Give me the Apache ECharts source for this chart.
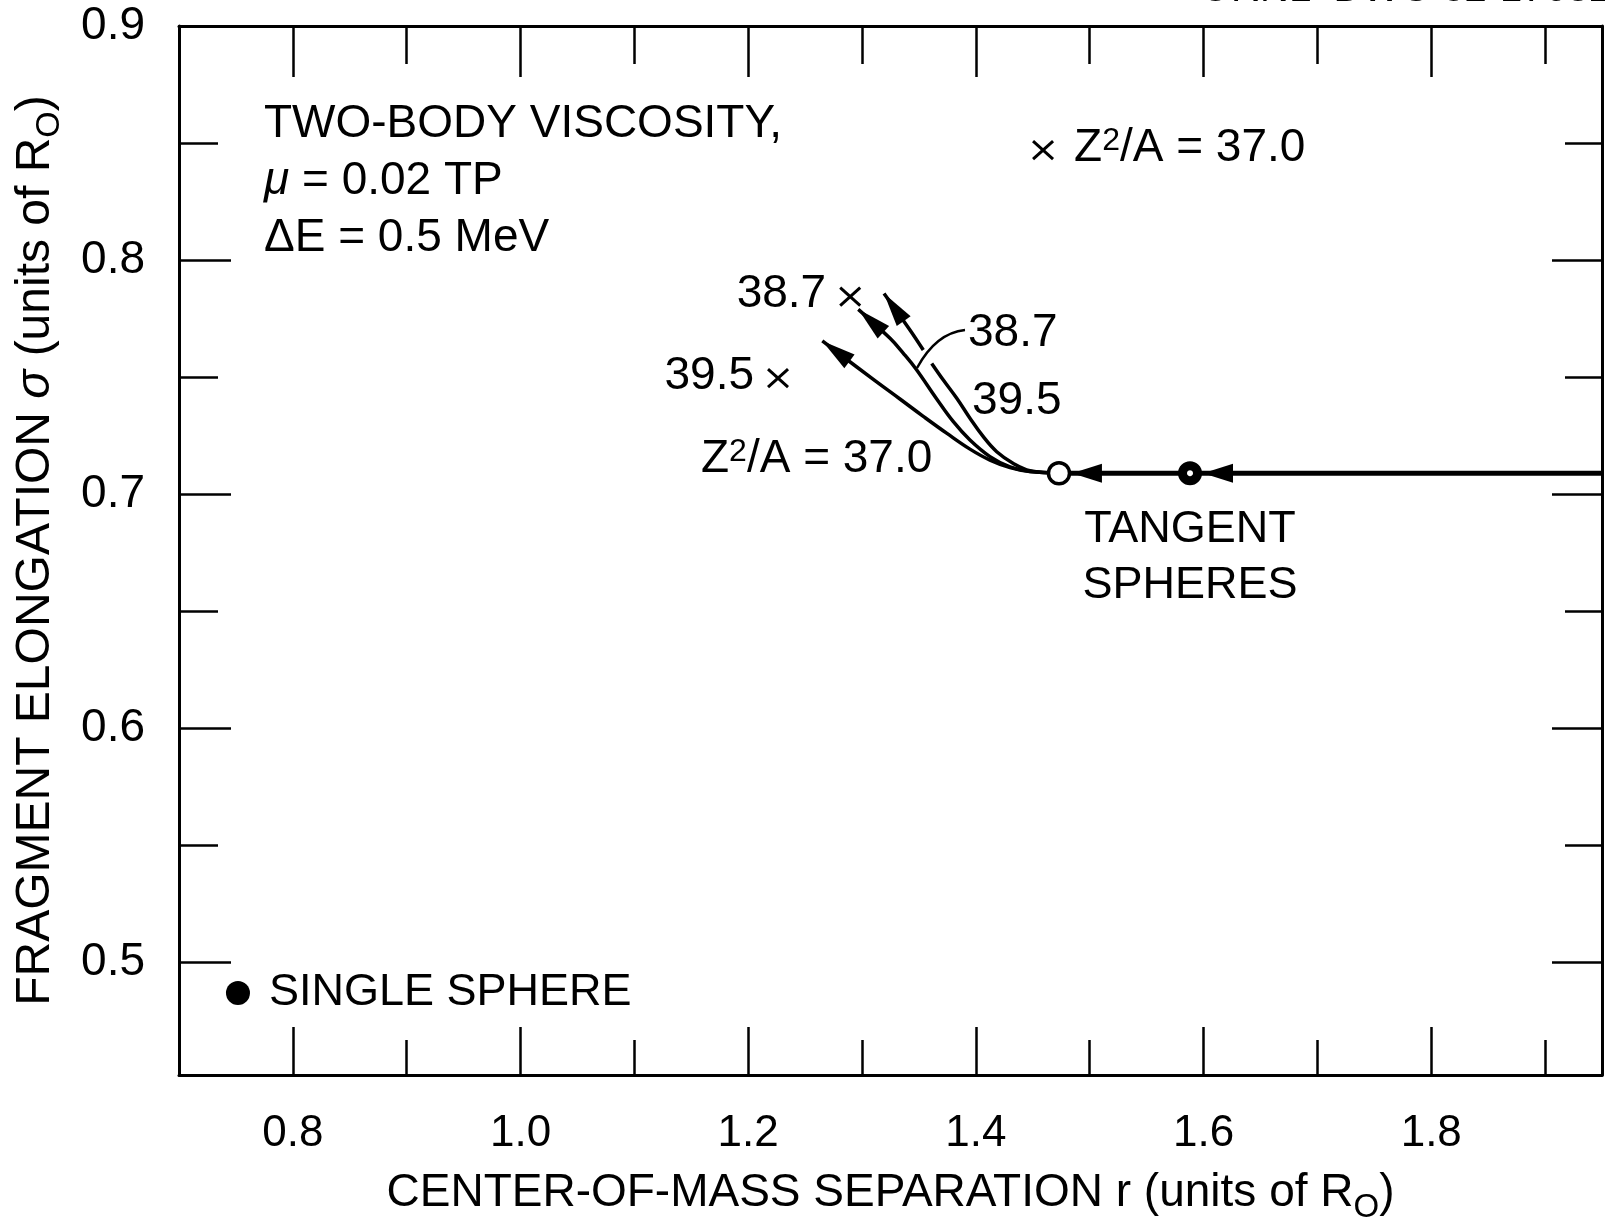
<!DOCTYPE html>
<html>
<head>
<meta charset="utf-8">
<script src="https://cdn.jsdelivr.net/npm/echarts@6/dist/echarts.min.js"></script>
<style>
    html, body { margin: 0; padding: 0; background: #fff; }
    #chart { width: 1605px; height: 1225px; }
</style>
</head>
<body>
<div id="chart"></div>
<script>
// Tick positions
const xMajorTicks = [0.8, 1.0, 1.2, 1.4, 1.6, 1.8];
const xMinorTicks = [0.9, 1.1, 1.3, 1.5, 1.7, 1.9];
const yMajorTicks = [0.5, 0.6, 0.7, 0.8, 0.9];
const yMinorTicks = [0.55, 0.65, 0.75, 0.85];

// Trajectories [r, sigma], from the tangent-sphere point to the arrow tip
const curve370 = [[1.4730, 0.7091], [1.4475, 0.7097], [1.4300, 0.7114], [1.4124, 0.7146], [1.3948, 0.7193],
    [1.3746, 0.7260], [1.3535, 0.7334], [1.3333, 0.7407], [1.3096, 0.7492], [1.2651, 0.7655]];
const curve387 = [[1.4730, 0.7091], [1.4475, 0.7097], [1.4300, 0.7117], [1.4124, 0.7161], [1.3948, 0.7232],
    [1.3802, 0.7310], [1.3656, 0.7407], [1.3474, 0.7535], [1.3363, 0.7602], [1.3246, 0.7666], [1.2967, 0.7790]];
const curve395 = [[1.4730, 0.7091], [1.4475, 0.7101], [1.4329, 0.7132], [1.4183, 0.7182], [1.4065, 0.7246],
    [1.3948, 0.7325], [1.3832, 0.7410], [1.3714, 0.7488], [1.3612, 0.7559], null, [1.3538, 0.7616],
    [1.3421, 0.7702], [1.3193, 0.7858]];

// Approach along the tangent line
const tangentSigma = 0.709;
const approachLine = [[1.95, tangentSigma], [1.4730, tangentSigma]];
const approachArrows = [[1.5995, tangentSigma, 1.95, tangentSigma], [1.4844, tangentSigma, 1.5881, tangentSigma]];

// Special points
const openCircle = [[1.4730, tangentSigma]];
const tangentSpheres = [[1.5881, tangentSigma]];
const singleSphere = [[0.7518, 0.487]];

// Scission points (x)
const crossR = [1.459, 1.2896, 1.2262];
const crossSigma = [0.847, 0.7844, 0.7496];
const crossLabels = ['Z{sup|2}/A = 37.0', '38.7', '39.5'];

const FONT = 'Liberation Sans';
const SUP = { fontFamily: FONT, fontSize: 32, verticalAlign: 'top', lineHeight: 30, fill: '#000', color: '#000' };

function tipArrow(curve) {
    const pts = curve.filter(p => p);
    const tip = pts[pts.length - 1];
    const prev = pts[pts.length - 2];
    return [tip[0], tip[1], prev[0], prev[1]];
}

function arrowSeries(list, len, width) {
    return {
        type: 'custom',
        coordinateSystem: 'cartesian2d',
        silent: true,
        z: 5,
        data: list,
        renderItem: function (params, api) {
            const tip = api.coord([api.value(0), api.value(1)]);
            const from = api.coord([api.value(2), api.value(3)]);
            let dx = tip[0] - from[0];
            let dy = tip[1] - from[1];
            const d = Math.sqrt(dx * dx + dy * dy) || 1;
            dx /= d; dy /= d;
            const bx = tip[0] - dx * len;
            const by = tip[1] - dy * len;
            const nx = -dy * width / 2;
            const ny = dx * width / 2;
            return {
                type: 'polygon',
                shape: { points: [tip, [bx + nx, by + ny], [bx - nx, by - ny]] },
                style: { fill: '#000' }
            };
        }
    };
}

function tickAxis(kind, position, values, len, withLine, withLabels) {
    const ax = {
        type: 'value',
        position: position,
        min: kind === 'x' ? 0.7 : 0.452,
        max: kind === 'x' ? 1.95 : 0.9,
        splitLine: { show: false },
        axisLine: { show: withLine, onZero: false, lineStyle: { color: '#000', width: 3 } },
        axisTick: { show: true, inside: true, length: len, customValues: values, lineStyle: { color: '#000', width: 2.5 } },
        axisLabel: { show: false }
    };
    if (withLabels) {
        ax.axisLabel = {
            show: true,
            customValues: values,
            formatter: v => v.toFixed(1),
            fontFamily: FONT,
            fontSize: kind === 'x' ? 44 : 46,
            color: '#000',
            margin: kind === 'x' ? 37 : 34
        };
    }
    return ax;
}

const chart = echarts.init(document.getElementById('chart'));

const xAxes = [
    tickAxis('x', 'bottom', xMajorTicks, 48, true, true),
    tickAxis('x', 'bottom', xMinorTicks, 35, false, false),
    tickAxis('x', 'top', xMajorTicks, 51, true, false),
    tickAxis('x', 'top', xMinorTicks, 38, false, false)
];
Object.assign(xAxes[0], {
    name: 'CENTER-OF-MASS SEPARATION r (units of R{sub|O})',
    nameLocation: 'middle',
    nameGap: 87,
    nameTextStyle: {
        fontFamily: FONT, fontSize: 46, color: '#000', lineHeight: 62,
        rich: { sub: { fontFamily: FONT, fontSize: 33, lineHeight: 33, verticalAlign: 'bottom', color: '#000' } }
    }
});

const yAxes = [
    tickAxis('y', 'left', yMajorTicks, 52, true, true),
    tickAxis('y', 'left', yMinorTicks, 39, false, false),
    tickAxis('y', 'right', yMajorTicks, 50, true, false),
    tickAxis('y', 'right', yMinorTicks, 37, false, false)
];
Object.assign(yAxes[0], {
    name: 'FRAGMENT ELONGATION {it|\u03c3} (units of R{sub|O})',
    nameLocation: 'middle',
    nameGap: 112,
    nameTextStyle: {
        fontFamily: FONT, fontSize: 48, color: '#000', lineHeight: 62,
        rich: {
            it: { fontFamily: FONT, fontSize: 48, fontStyle: 'italic', color: '#000' },
            sub: { fontFamily: FONT, fontSize: 34, lineHeight: 34, verticalAlign: 'bottom', color: '#000' }
        }
    }
});

const curveLine = (name, data) => ({
    name: name,
    type: 'line',
    data: data,
    smooth: 0.4,
    connectNulls: false,
    showSymbol: false,
    symbol: 'none',
    z: 3,
    lineStyle: { color: '#000', width: 3.5 }
});

const option = {
    animation: false,
    backgroundColor: '#fff',
    textStyle: { fontFamily: FONT, color: '#000' },
    grid: { left: 179, right: 3, top: 26, bottom: 150, containLabel: false, outerBoundsMode: 'none' },
    xAxis: xAxes,
    yAxis: yAxes,
    series: [
        {
            name: 'approach',
            type: 'line',
            data: approachLine,
            symbol: 'none',
            z: 3,
            lineStyle: { color: '#000', width: 5 }
        },
        curveLine('37.0', curve370),
        curveLine('38.7', curve387),
        curveLine('39.5', curve395),
        arrowSeries(approachArrows, 30, 19),
        arrowSeries([tipArrow(curve370), tipArrow(curve387), tipArrow(curve395)], 34, 17),
        {
            name: 'open',
            type: 'scatter',
            data: openCircle,
            symbol: 'circle',
            symbolSize: 21,
            z: 6,
            itemStyle: { color: '#fff', borderColor: '#000', borderWidth: 3.5, opacity: 1 }
        },
        {
            name: 'tangent spheres',
            type: 'scatter',
            data: tangentSpheres,
            symbol: 'circle',
            symbolSize: 15,
            z: 6,
            itemStyle: { color: '#fff', borderColor: '#000', borderWidth: 9, opacity: 1 },
            label: {
                show: true,
                position: 'bottom',
                distance: 16,
                formatter: 'TANGENT\nSPHERES',
                fontFamily: FONT,
                fontSize: 45,
                lineHeight: 56,
                color: '#000',
                align: 'center'
            }
        },
        {
            name: 'single sphere',
            type: 'scatter',
            data: singleSphere,
            symbol: 'circle',
            symbolSize: 24,
            z: 6,
            itemStyle: { color: '#000', opacity: 1 },
            label: {
                show: true,
                position: 'right',
                distance: 19,
                formatter: 'SINGLE SPHERE',
                fontFamily: FONT,
                fontSize: 45,
                color: '#000'
            }
        },
        {
            name: 'scission',
            type: 'custom',
            coordinateSystem: 'cartesian2d',
            silent: true,
            z: 6,
            data: crossR.map((r, i) => [r, crossSigma[i]]),
            renderItem: function (params, api) {
                const p = api.coord([api.value(0), api.value(1)]);
                const sx = 10, sy = 9;
                const right = params.dataIndex === 0;
                return {
                    type: 'group',
                    children: [
                        { type: 'line', shape: { x1: p[0] - sx, y1: p[1] - sy, x2: p[0] + sx, y2: p[1] + sy }, style: { stroke: '#000', lineWidth: 3 } },
                        { type: 'line', shape: { x1: p[0] - sx, y1: p[1] + sy, x2: p[0] + sx, y2: p[1] - sy }, style: { stroke: '#000', lineWidth: 3 } },
                        {
                            type: 'text',
                            x: right ? p[0] + 31 : p[0] - 24,
                            y: p[1] - 2,
                            style: {
                                text: crossLabels[params.dataIndex],
                                font: '46px "' + FONT + '"',
                                fill: '#000',
                                align: right ? 'left' : 'right',
                                verticalAlign: 'middle',
                                rich: { sup: SUP }
                            }
                        }
                    ]
                };
            }
        }
    ],
    graphic: [
        {
            type: 'text',
            left: 264,
            top: 96,
            style: {
                text: 'TWO-BODY VISCOSITY,\n{i|\u03bc} = 0.02 TP\n\u0394E = 0.5 MeV',
                font: '46px "' + FONT + '"',
                lineHeight: 57,
                fill: '#000',
                rich: { i: { fontFamily: FONT, fontSize: 46, fontStyle: 'italic', lineHeight: 57 } }
            }
        },
        {
            type: 'text', left: 701, top: 466 - 30,
            style: { text: 'Z{sup|2}/A = 37.0', font: '46px "' + FONT + '"', fill: '#000', rich: { sup: SUP } }
        },
        {
            type: 'text', left: 968, top: 333 - 28,
            style: { text: '38.7', font: '46px "' + FONT + '"', fill: '#000', lineHeight: 56 }
        },
        {
            type: 'bezierCurve',
            shape: { x1: 965, y1: 330, cpx1: 936, cpy1: 333, x2: 917, y2: 368 },
            style: { stroke: '#000', lineWidth: 2.5, fill: null }
        },
        {
            type: 'text', left: 972, top: 401 - 28,
            style: { text: '39.5', font: '46px "' + FONT + '"', fill: '#000', lineHeight: 56 }
        },
        {
            type: 'text', x: 1200, y: 10,
            style: { text: 'ORNL\u2013DWG 82-17632', font: '40px "' + FONT + '"', fill: '#000', verticalAlign: 'bottom' }
        }
    ]
};

chart.setOption(option);

window.addEventListener('resize', function () {
    chart.resize();
});
</script>
</body>
</html>
